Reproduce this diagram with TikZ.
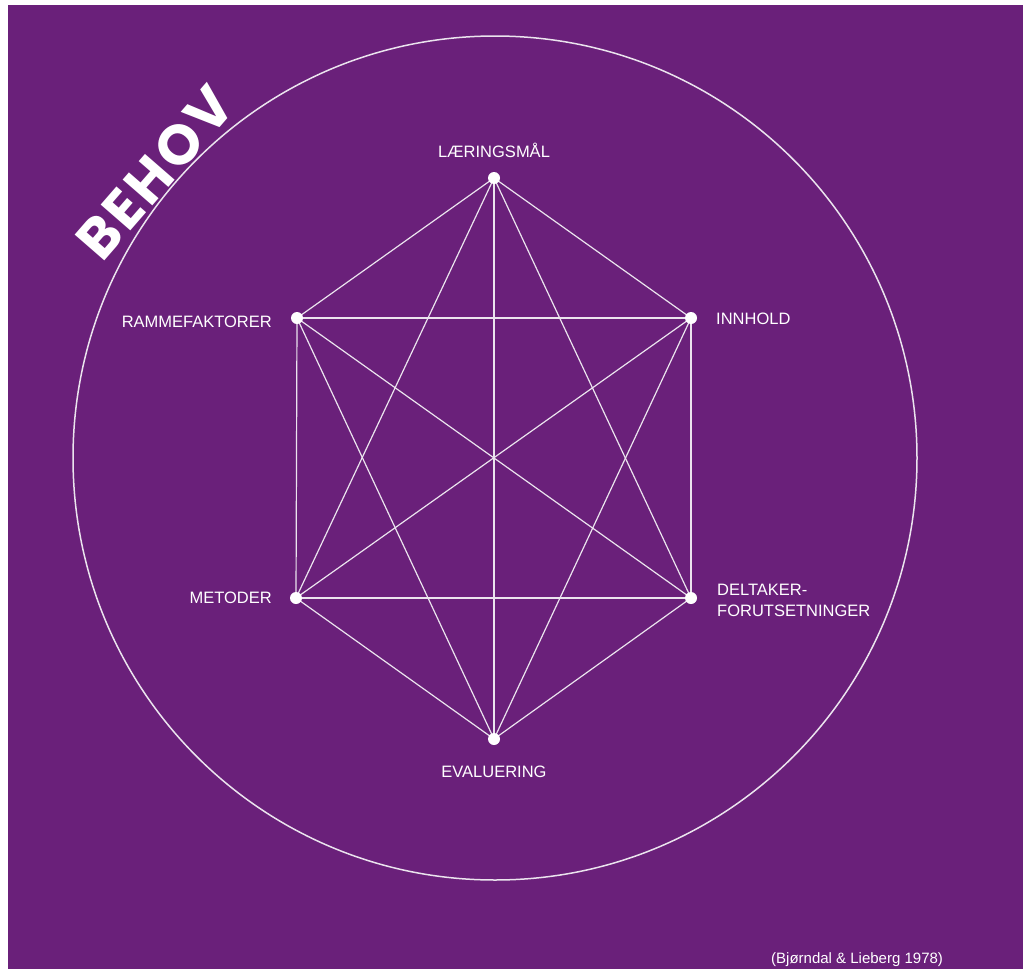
\documentclass[tikz,border=0pt]{standalone}
\usepackage{fontspec}
\setmainfont{Liberation Sans}
\newfontfamily\behovfont{Poppins}[LetterSpace=6]
\definecolor{bgpurple}{RGB}{106,32,122}
\definecolor{linewhite}{RGB}{235,228,238}
\begin{document}
\begin{tikzpicture}[x=1pt,y=1pt,
  edge/.style={draw=linewhite, line width=1.2pt},
  dot/.style={circle, fill=white, inner sep=0pt, minimum size=12pt},
  lbl/.style={text=white, inner sep=0pt, font=\fontsize{16.5}{21}\selectfont},
  cite/.style={text=white, inner sep=0pt, font=\fontsize{15}{18}\selectfont}]
\useasboundingbox (0,0) rectangle (1023,-969);
\fill[white] (0,0) rectangle (1023,-969);
\fill[bgpurple] (8,-5) rectangle (1023,-969);
\node[draw=linewhite, line width=1.5pt, circle, minimum size=844pt, inner sep=0pt] (ring) at (495,-458) {};
\coordinate (L) at (494,-178);
\coordinate (I) at (691,-318);
\coordinate (R) at (297,-318);
\coordinate (M) at (296,-598);
\coordinate (D) at (691,-598);
\coordinate (E) at (494,-739);
\foreach \a/\b in {L/I,L/R,L/M,L/D,L/E,I/R,I/M,I/D,I/E,R/M,R/D,R/E,M/D,M/E,D/E}
  \draw[edge] (\a) -- (\b);
\foreach \n in {L,I,R,M,D,E} \node[dot] (dot\n) at (\n) {};
\node[lbl, anchor=base] (tL) at (494,-157) {LÆRINGSMÅL};
\node[lbl, anchor=base west] (tI) at (716,-324) {INNHOLD};
\node[lbl, anchor=base east] (tR) at (272,-327) {RAMMEFAKTORER};
\node[lbl, anchor=base east] (tM) at (272,-603) {METODER};
\node[lbl, anchor=base west] (tD1) at (717,-595) {DELTAKER-};
\node[lbl, anchor=base west] (tD2) at (717,-616) {FORUTSETNINGER};
\node[lbl, anchor=base] (tE) at (494,-777) {EVALUERING};
\node[cite, anchor=base west] (cite) at (771,-963) {(Bjørndal \& Lieberg 1978)};
\node[text=white, inner sep=0pt, anchor=base, rotate=49, font=\behovfont\bfseries\fontsize{56}{60}\selectfont] (behov) at (170,-186) {BEHOV};
\end{tikzpicture}
\end{document}
